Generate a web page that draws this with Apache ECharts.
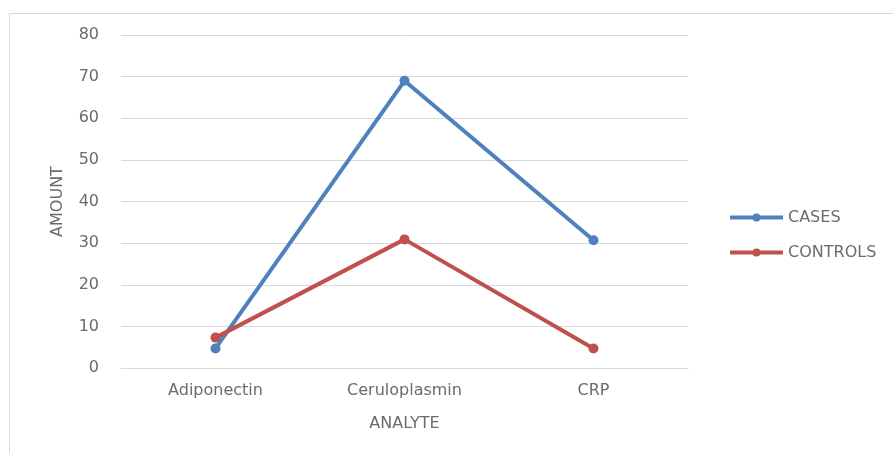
<!DOCTYPE html>
<html>
<head>
<meta charset="utf-8">
<script src="https://cdn.jsdelivr.net/npm/echarts@6/dist/echarts.min.js"></script>
<style>
  html, body { margin: 0; padding: 0; background: #fff; }
  #main { width: 893px; height: 453px; }
</style>
</head>
<body>
<div id="main"></div>
<script>
const analytes = ['Adiponectin', 'Ceruloplasmin', 'CRP'];
const cases = [4.7, 69.0, 30.7];
const controls = [7.3, 30.9, 4.7];

const chart = echarts.init(document.getElementById('main'));
const font = '"DejaVu Sans", sans-serif';
const txt = '#6b6b6b';

chart.setOption({
  animation: false,
  textStyle: { fontFamily: font },
  graphic: [{
    type: 'rect',
    shape: { x: 9.5, y: 13.5, width: 900, height: 460 },
    style: { fill: 'none', stroke: '#d9d9d9', lineWidth: 1 }
  }],
  grid: { left: 121, right: 205, top: 35, bottom: 85 },
  legend: {
    orient: 'vertical',
    left: 723,
    top: 204,
    itemWidth: 53,
    itemHeight: 10,
    itemGap: 18,
    lineStyle: { width: 4 },
    textStyle: { color: txt, fontSize: 16, lineHeight: 17, fontFamily: font }
  },
  xAxis: {
    type: 'category',
    data: analytes,
    name: 'ANALYTE',
    nameLocation: 'middle',
    nameGap: 48,
    nameTextStyle: { color: txt, fontSize: 16 },
    axisLine: { lineStyle: { color: '#d9d9d9' } },
    axisTick: { show: false },
    axisLabel: { color: txt, fontSize: 16, margin: 15 }
  },
  yAxis: {
    type: 'value',
    min: 0,
    max: 80,
    interval: 10,
    name: 'AMOUNT',
    nameLocation: 'middle',
    nameGap: 55,
    nameTextStyle: { color: txt, fontSize: 16 },
    axisLine: { show: false },
    axisTick: { show: false },
    axisLabel: { color: txt, fontSize: 16, margin: 22 },
    splitLine: { lineStyle: { color: '#d9d9d9' } }
  },
  series: [
    {
      name: 'CASES',
      type: 'line',
      data: cases,
      symbol: 'circle',
      symbolSize: 10,
      lineStyle: { width: 4, color: '#4f81bd' },
      itemStyle: { color: '#4f81bd' }
    },
    {
      name: 'CONTROLS',
      type: 'line',
      data: controls,
      symbol: 'circle',
      symbolSize: 10,
      lineStyle: { width: 4, color: '#c0504d' },
      itemStyle: { color: '#c0504d' }
    }
  ]
});
</script>
</body>
</html>
